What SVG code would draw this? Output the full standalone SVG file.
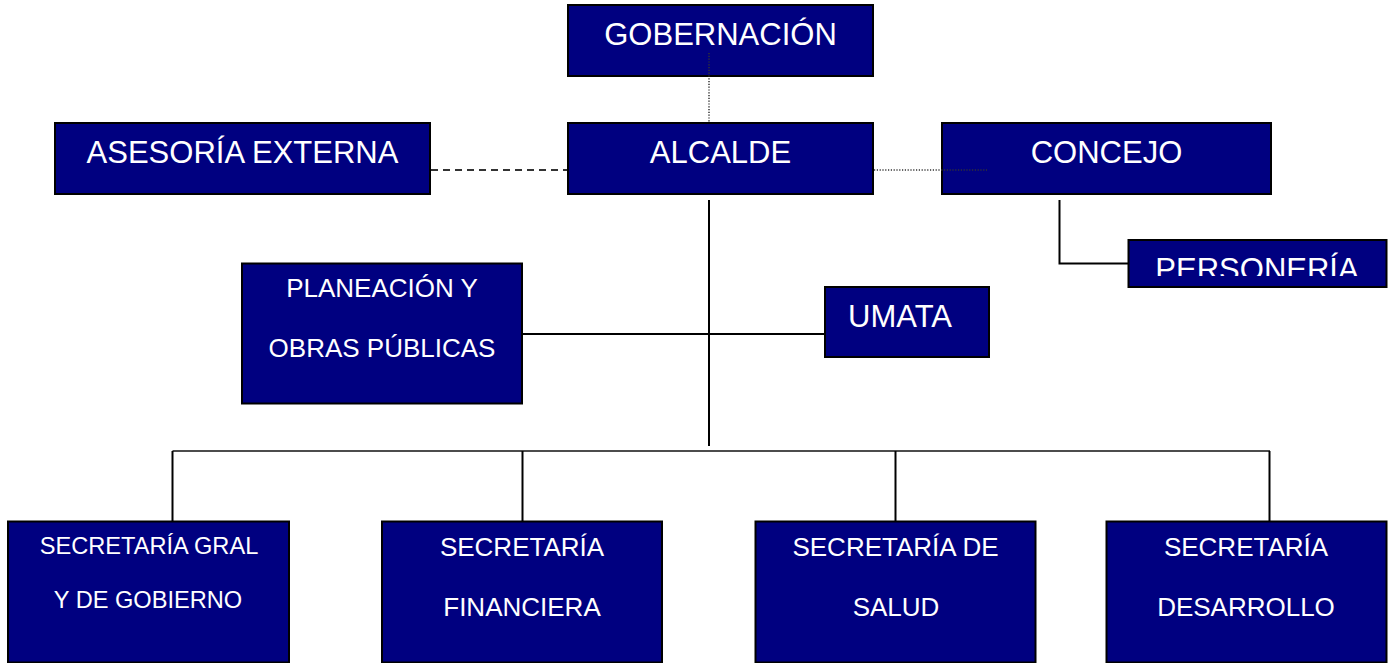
<svg xmlns="http://www.w3.org/2000/svg" width="1393" height="663" viewBox="0 0 1393 663">
<style>
.box{fill:#000080;stroke:#000;stroke-width:2}
.t{fill:#fff;font-family:"Liberation Sans",Arial,sans-serif;text-anchor:middle}
.big{font-size:31px}
.mid{font-size:26px}
.sm{font-size:23.6px}
.solid{stroke:#000;stroke-width:2;fill:none}
.bus{stroke:#111;stroke-width:1.6;fill:none}
.dash{stroke:#333;stroke-width:2;stroke-dasharray:7 5;fill:none}
.dot{stroke:#333;stroke-width:1.5;stroke-dasharray:1.2 1.6;fill:none}
</style>
<defs>
<clipPath id="clipPers"><rect x="1129" y="241" width="257" height="35"/></clipPath>
</defs>
<rect width="1393" height="663" fill="#fff"/>
<g id="gobernacion"><rect class="box" x="568" y="5" width="305" height="71"/><text class="t big" x="720.5" y="45">GOBERNACIÓN</text></g>
<g id="alcalde"><rect class="box" x="568" y="123" width="305" height="71"/><text class="t big" x="720.5" y="163">ALCALDE</text></g>
<g id="asesoria"><rect class="box" x="55" y="123" width="375" height="71"/><text class="t big" x="242.5" y="163">ASESORÍA EXTERNA</text></g>
<g id="concejo"><rect class="box" x="942" y="123" width="329" height="71"/><text class="t big" x="1106.5" y="163">CONCEJO</text></g>
<g id="personeria"><rect class="box" x="1128.5" y="240" width="258" height="47"/><text class="t big" x="1257" y="280" clip-path="url(#clipPers)">PERSONERÍA</text></g>
<g id="planeacion"><rect class="box" x="242" y="263.5" width="280" height="140"/><text class="t mid" x="382" y="297">PLANEACIÓN Y</text><text class="t mid" x="382" y="357">OBRAS PÚBLICAS</text></g>
<g id="umata"><rect class="box" x="825" y="287" width="164" height="70"/><text class="t big" x="900" y="327">UMATA</text></g>
<g id="sec-gral"><rect class="box" x="8" y="521.5" width="281" height="141"/><text class="t sm" x="149" y="554">SECRETARÍA GRAL</text><text class="t sm" x="148" y="608">Y DE GOBIERNO</text></g>
<g id="sec-financiera"><rect class="box" x="382" y="521.5" width="280" height="141"/><text class="t mid" x="522" y="556">SECRETARÍA</text><text class="t mid" x="522" y="616">FINANCIERA</text></g>
<g id="sec-salud"><rect class="box" x="755.5" y="521.5" width="280" height="141"/><text class="t mid" x="895.5" y="556">SECRETARÍA DE</text><text class="t mid" x="896" y="616">SALUD</text></g>
<g id="sec-desarrollo"><rect class="box" x="1106.5" y="521.5" width="280" height="141"/><text class="t mid" x="1246" y="556">SECRETARÍA</text><text class="t mid" x="1246" y="616">DESARROLLO</text></g>
<g id="connectors">
<line class="dot" x1="709" y1="53" x2="709" y2="122"/>
<line class="dash" x1="431" y1="170" x2="567" y2="170"/>
<line class="dot" x1="874" y1="170" x2="987" y2="170"/>
<polyline class="solid" points="1059.5,200 1059.5,263.5 1128,263.5"/>
<line class="solid" x1="709" y1="200" x2="709" y2="446"/>
<line class="solid" x1="522" y1="334" x2="825" y2="334"/>
<line class="bus" x1="172.5" y1="451" x2="1270" y2="451"/>
<line class="solid" x1="172.5" y1="451" x2="172.5" y2="521"/>
<line class="solid" x1="522.5" y1="451" x2="522.5" y2="521"/>
<line class="solid" x1="895.5" y1="451" x2="895.5" y2="521"/>
<line class="solid" x1="1269.5" y1="451" x2="1269.5" y2="521"/>
</g>
</svg>
